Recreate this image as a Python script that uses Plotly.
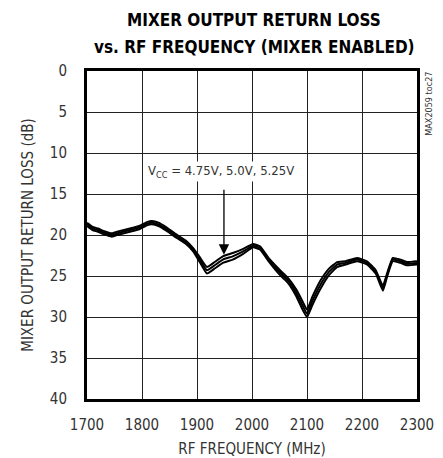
import plotly.graph_objects as go

freq = [1700, 1710, 1720, 1730, 1745, 1760, 1778, 1795, 1810, 1818, 1830, 1845, 1864, 1880, 1893, 1905,
        1918, 1930, 1947, 1965, 1984, 2002, 2015, 2030, 2051, 2065, 2080, 2092, 2100, 2110, 2125, 2140,
        2155, 2170, 2191, 2209, 2225, 2238, 2246, 2256, 2270, 2282, 2300]

rl_475 = [18.5, 19.0, 19.2, 19.5, 19.8, 19.5, 19.2, 18.9, 18.4, 18.3, 18.5, 19.1, 20.0, 20.7, 21.6, 22.7,
          23.9, 23.4, 22.6, 22.2, 21.7, 21.1, 21.4, 22.8, 24.3, 25.2, 26.6, 28.1, 29.1, 27.5, 25.5, 24.1,
          23.3, 23.2, 22.8, 23.2, 24.3, 26.2, 24.6, 22.8, 23.0, 23.3, 23.2]
rl_500 = [18.7, 19.2, 19.4, 19.7, 20.0, 19.7, 19.4, 19.1, 18.6, 18.5, 18.7, 19.3, 20.2, 20.9, 21.8, 23.0,
          24.3, 23.8, 23.0, 22.6, 22.0, 21.3, 21.6, 23.0, 24.6, 25.5, 27.0, 28.6, 29.6, 28.0, 26.0, 24.5,
          23.6, 23.4, 23.0, 23.4, 24.5, 26.5, 24.8, 23.0, 23.2, 23.5, 23.4]
rl_525 = [18.9, 19.4, 19.6, 19.9, 20.2, 19.9, 19.6, 19.3, 18.8, 18.7, 18.9, 19.5, 20.4, 21.1, 22.0, 23.3,
          24.7, 24.2, 23.4, 23.0, 22.3, 21.5, 21.8, 23.2, 24.9, 25.8, 27.4, 29.1, 30.0, 28.5, 26.5, 24.9,
          23.9, 23.6, 23.2, 23.6, 24.7, 26.8, 25.0, 23.2, 23.4, 23.7, 23.6]

x_ticks = [1700, 1800, 1900, 2000, 2100, 2200, 2300]
y_ticks = [0, 5, 10, 15, 20, 25, 30, 35, 40]

FONT = "DejaVu Sans Condensed, Liberation Sans, sans-serif"

fig = go.Figure()
for ys in (rl_475, rl_500, rl_525):
    fig.add_trace(go.Scatter(x=freq, y=ys, mode="lines",
                             line=dict(color="black", width=2, shape="spline", smoothing=0.4),
                             showlegend=False, hoverinfo="skip"))

fig.update_layout(
    width=443, height=458,
    margin=dict(l=87, r=26, t=71, b=59),
    paper_bgcolor="white", plot_bgcolor="white",
    font=dict(family=FONT, size=14, color="#333"),
    xaxis=dict(range=[1700, 2300], tickvals=x_ticks, ticks="", showgrid=True,
               gridcolor="#222", gridwidth=1, showline=True, linecolor="black", linewidth=3,
               mirror=True, zeroline=False, ticklabelstandoff=10, automargin=False,
               title=dict(text="RF FREQUENCY (MHz)", font=dict(family=FONT, size=15, color="#333"), standoff=11),
               tickfont=dict(family=FONT, size=15, color="#333")),
    yaxis=dict(range=[40, 0], tickvals=y_ticks, ticks="", showgrid=True,
               gridcolor="#222", gridwidth=1, showline=True, linecolor="black", linewidth=3,
               mirror=True, zeroline=False, ticklabelstandoff=14, automargin=False,
               title=dict(text="MIXER OUTPUT RETURN LOSS (dB)", font=dict(family=FONT, size=15, color="#333"), standoff=13),
               tickfont=dict(family=FONT, size=15, color="#333")),
)

W, H, L, R, T, B = 443, 458, 87, 26, 71, 59
pw, ph = W - L - R, H - T - B

def px_to_paper(px, py):
    return (px - L) / pw, (H - B - py) / ph

for txt, (px, py) in (("<b>MIXER OUTPUT RETURN LOSS</b>", (254, 20)),
                      ("<b>vs. RF FREQUENCY (MIXER ENABLED)</b>", (254, 47))):
    xp, yp = px_to_paper(px, py)
    fig.add_annotation(x=xp, y=yp, xref="paper", yref="paper", xanchor="center", yanchor="middle",
                       text=txt, showarrow=False, font=dict(family=FONT, size=17, color="black"))

fig.add_annotation(x=1944, y=12.3, xref="x", yref="y",
                   text="V<sub>CC</sub> = 4.75V, 5.0V, 5.25V", showarrow=False,
                   font=dict(family=FONT, size=13, color="#333"), bgcolor="white")
fig.add_annotation(x=1949, y=22.4, ax=1949, ay=14.3, xref="x", yref="y", axref="x", ayref="y",
                   text="", showarrow=True, arrowhead=2, arrowsize=1.6, arrowwidth=1.3,
                   arrowcolor="black")
fig.add_annotation(x=1.036, y=0.9, xref="paper", yref="paper", xanchor="center", yanchor="middle",
                   text="MAX2059 toc27", textangle=-90, showarrow=False,
                   font=dict(family=FONT, size=9, color="#333"))

fig.write_html("out.html", config={"displayModeBar": False})
with open("out.html", "r", encoding="utf-8") as f:
    html = f.read()
html = html.replace("<head>", "<head><style>html,body{margin:0;padding:0;overflow:hidden;}</style>", 1)
with open("out.html", "w", encoding="utf-8") as f:
    f.write(html)
